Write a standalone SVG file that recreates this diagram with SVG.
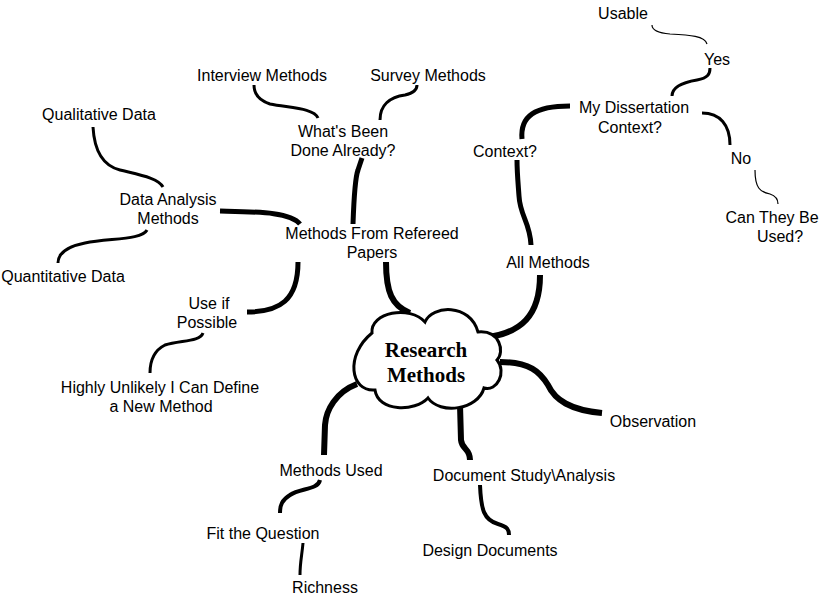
<svg xmlns="http://www.w3.org/2000/svg" width="826" height="599" viewBox="0 0 826 599">
<style>
text{font-family:"Liberation Sans",Arial,sans-serif;font-size:16px;fill:#000;text-anchor:middle}
.title{font-family:"Liberation Serif","Times New Roman",serif;font-weight:bold;font-size:21px}
.c{fill:none;stroke:#000;stroke-linecap:butt}
.w6{stroke-width:6}
.w5{stroke-width:5}
.w4{stroke-width:4}
.w3{stroke-width:3}
.w1{stroke-width:1.2}
</style>
<rect width="826" height="599" fill="#fff"/>
<g id="connectors">
<path class="c w6" d="M386,262 C386,292 392,306 410,313"/>
<path class="c w6" d="M540,275 C540,315 522,334 482,338"/>
<path class="c w5" d="M531,245 C530,222 520,216 519,196 C518,182 517,172 517,160"/>
<path class="c w5" d="M522,139 C520,116 535,106 570,106"/>
<path class="c w3" d="M672,96 C672,86 685,82 697,80 C708,78 710,74 710,68"/>
<path class="c w1" d="M707,44 C705,36 690,35 670,34 C658,33 652,30 652,25"/>
<path class="c w3" d="M702,113 C720,113 730,125 730,145"/>
<path class="c w1" d="M755,170 C755,188 760,192 770,194 C776,196 778,200 778,204"/>
<path class="c w6" d="M500,362 C530,362 540,372 548,385 C555,400 570,410 602,413"/>
<path class="c w6" d="M460,405 L461,440 C462,450 470,448 470,460"/>
<path class="c w4" d="M480,485 C481,510 484,520 498,524 C508,527 509,530 509,535"/>
<path class="c w6" d="M357,384 C336,392 326,410 325,425 L324,455"/>
<path class="c w4" d="M320,480 C318,490 300,488 290,495 C282,500 280,505 280,513"/>
<path class="c w3" d="M303,543 C302,555 300,562 300,575"/>
<path class="c w5" d="M298,262 C298,300 280,312 247,312"/>
<path class="c w3" d="M203,333 C200,342 180,340 165,345 C155,350 150,360 150,373"/>
<path class="c w5" d="M220,211 C260,212 290,212 300,224"/>
<path class="c w5" d="M353,224 C354,195 355,178 358,170 L362,158"/>
<path class="c w3" d="M163,187 C158,178 140,175 120,170 C100,165 94,145 93,127"/>
<path class="c w3" d="M147,230 C142,240 110,238 85,243 C65,247 58,255 58,263"/>
<path class="c w3" d="M318,118 C314,108 290,108 270,104 C258,100 254,93 254,85"/>
<path class="c w3" d="M380,120 C380,105 390,97 405,95 C414,93 417,90 417,85"/>
</g>
<g id="research-methods">
<path d="M372,333 C370,312 410,305 425,322 C432,305 470,303 478,332 C500,330 505,352 497,360 C507,372 497,392 484,388 C478,410 440,415 428,398 C415,412 378,412 375,390 C350,392 345,355 372,333 Z" fill="#fff" stroke="#000" stroke-width="3"/>
<text class="title" x="426" y="357">Research</text>
<text class="title" x="426" y="382">Methods</text>
</g>
<g id="methods-from-refereed"><text x="372" y="239">Methods From Refereed</text><text x="372" y="258">Papers</text></g>
<g id="whats-been-done"><text x="343" y="137">What's Been</text><text x="343" y="156">Done Already?</text></g>
<g id="interview-methods"><text x="262" y="81">Interview Methods</text></g>
<g id="survey-methods"><text x="428" y="81">Survey Methods</text></g>
<g id="data-analysis"><text x="168" y="205">Data Analysis</text><text x="168" y="224">Methods</text></g>
<g id="qualitative"><text x="99" y="120">Qualitative Data</text></g>
<g id="quantitative"><text x="63" y="282">Quantitative Data</text></g>
<g id="use-if-possible"><text x="209" y="309">Use if</text><text x="207" y="328">Possible</text></g>
<g id="highly-unlikely"><text x="160" y="393">Highly Unlikely I Can Define</text><text x="161" y="412">a New Method</text></g>
<g id="all-methods"><text x="548" y="268">All Methods</text></g>
<g id="context"><text x="505" y="157">Context?</text></g>
<g id="my-dissertation"><text x="634" y="113">My Dissertation</text><text x="630" y="133">Context?</text></g>
<g id="yes"><text x="717" y="65">Yes</text></g>
<g id="usable"><text x="623" y="19">Usable</text></g>
<g id="no"><text x="741" y="164">No</text></g>
<g id="can-they"><text x="772" y="223">Can They Be</text><text x="780" y="242">Used?</text></g>
<g id="observation"><text x="653" y="427">Observation</text></g>
<g id="document-study"><text x="524" y="481">Document Study\Analysis</text></g>
<g id="design-documents"><text x="490" y="556">Design Documents</text></g>
<g id="methods-used"><text x="331" y="476">Methods Used</text></g>
<g id="fit-question"><text x="263" y="539">Fit the Question</text></g>
<g id="richness"><text x="325" y="593">Richness</text></g>
</svg>
